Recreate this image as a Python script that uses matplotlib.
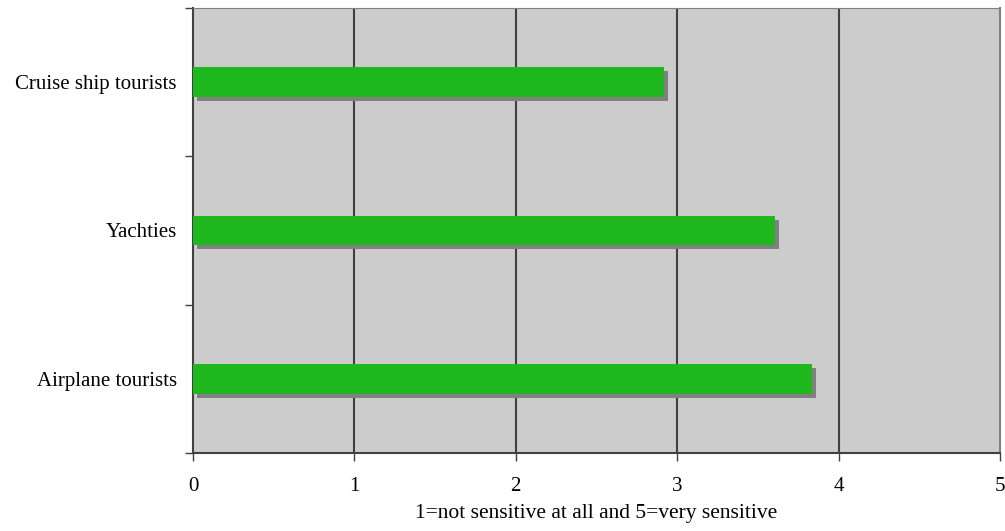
import matplotlib
matplotlib.use("Agg")
import matplotlib.pyplot as plt
import matplotlib.patheffects as pe
import numpy as np

# Data (bottom to top)
groups = ["Airplane tourists", "Yachties", "Cruise ship tourists"]
scores = [3.835, 3.605, 2.92]
x_ticks = [0, 1, 2, 3, 4, 5]
x_label = "1=not sensitive at all and 5=very sensitive"

plt.rcParams.update({
    "font.family": ["Liberation Serif", "DejaVu Serif"],
    "font.size": 15,
})

fig = plt.figure(figsize=(10.05, 5.31), dpi=100)
ax = fig.add_axes([0.192, 0.147, 0.803, 0.838])
ax.set_facecolor("#cccccc")

y = np.arange(len(groups))
ax.barh(y, scores, height=0.2, color="#1eb81e", zorder=3,
        path_effects=[pe.SimplePatchShadow(offset=(3, -3), shadow_rgbFace="#808080", alpha=1.0),
                      pe.Normal()])

ax.set_xlim(0, 5)
ax.set_ylim(-0.5, len(groups) - 0.5)
ax.set_xticks(x_ticks)
ax.set_xticklabels([str(t) for t in x_ticks])
ax.set_yticks(y)
ax.set_yticklabels(groups)
ax.set_yticks(np.arange(-0.5, len(groups), 1.0), minor=True)
ax.tick_params(axis="y", which="major", length=0, pad=11.5)
ax.tick_params(axis="y", which="minor", length=6, width=1.0, color="#404040")
ax.tick_params(axis="x", length=6, width=1.0, color="#404040", pad=11)

for v in x_ticks[1:-1]:
    ax.axvline(v, color="#404040", linewidth=1.5, zorder=1)

ax.spines["left"].set_color("#404040")
ax.spines["left"].set_linewidth(1.5)
ax.spines["bottom"].set_color("#404040")
ax.spines["bottom"].set_linewidth(1.5)
ax.spines["top"].set_color("#808080")
ax.spines["right"].set_color("#808080")
ax.spines["right"].set_linewidth(1.5)

ax.set_xlabel(x_label, fontsize=15.5, labelpad=6)

fig.savefig("out.png", dpi=100)
